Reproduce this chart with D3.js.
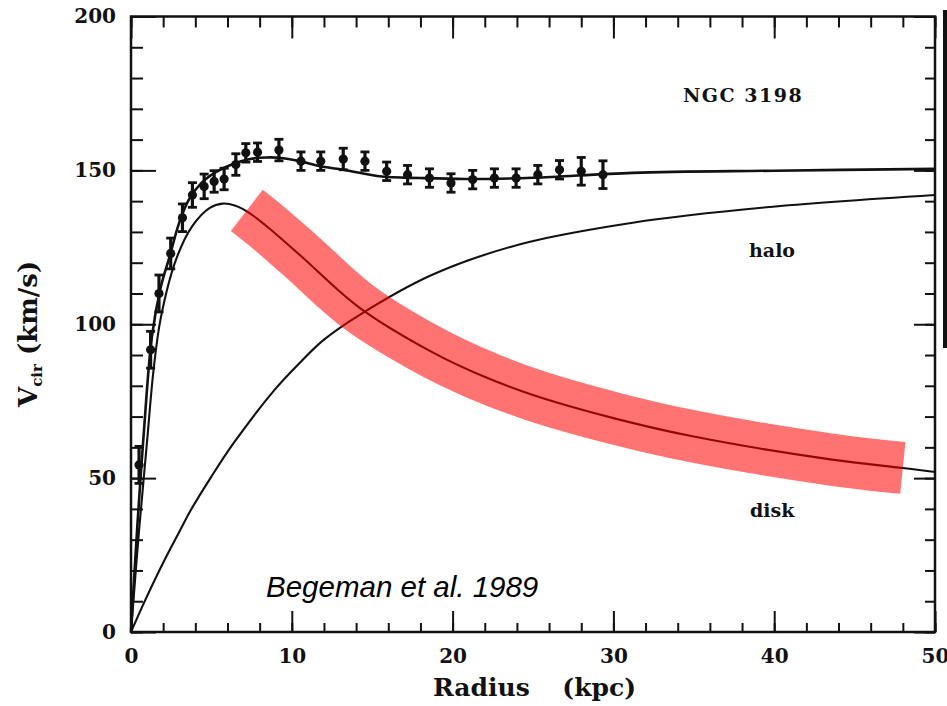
<!DOCTYPE html>
<html lang="en">
<head>
<meta charset="utf-8">
<title>NGC 3198 rotation curve</title>
<script src="https://cdn.jsdelivr.net/npm/d3@7/dist/d3.min.js"></script>
<style>
  body { margin: 0; background: #fff; }
  svg { display: block; }
  .tick text { font-family: "DejaVu Serif", serif; font-weight: bold; font-size: 20px; fill: #111; }
  .lbl { font-family: "DejaVu Serif", serif; font-weight: bold; fill: #111; }
</style>
</head>
<body>
<script>
// observed points (radius kpc, velocity km/s, error)
var obsR = [0.5,1.22,1.74,2.47,3.2,3.82,4.55,5.17,5.79,6.52,7.14,7.87,9.2,10.57,11.8,13.2,14.55,15.9,17.2,18.56,19.9,21.25,22.6,23.95,25.3,26.65,28.0,29.35];
var obsV = [54.3,91.7,110,123,134.6,142,144.8,146.4,147.2,151.9,155.7,155.9,156.6,153,153,153.7,153,149.7,148.6,147.5,145.9,147,147.5,147.5,148.6,150.2,149.7,148.6];
var obsErr = [6,6,6,5,4.5,4,4,3.5,3.5,3.5,3,3,3.5,3,3,3.5,3,3,3,3,3,3,3,3,3,3,4.5,4.5];

// model curves
var totalR = [0,0.4,0.8,1.3,1.85,2.4,3,3.6,4.4,5.3,6.3,7.4,8.4,9.2,10.5,11.7,13.2,15.6,18,20.8,25,31.2,40,50];
var totalV = [0,35,65,96,112,122,133,140.5,146,149.5,152,153.7,154.2,154.1,153,151.4,150.2,148,147.5,147.2,147.6,149.2,149.9,150.5];

var diskR = [0,0.5,1,1.4,1.85,2.8,3.8,4.9,5.7,6.5,7.35,8.4,10.5,14.2,18.7,21.5,25,30,35,43.6,48,50];
var diskV = [0,33,62,85,102,121,131.8,137.8,139.2,138.5,136.2,132,122.5,105.4,91,84,77,69.5,63.5,56,53.3,52];

var haloR = [0,0.8,2,3,3.74,5,6.4,8.9,10.5,12,14.2,18.7,24.2,31.2,39.5,50];
var haloV = [0,9.4,22.5,32.5,39.8,50.5,61.5,78.5,87.5,95,103,116,126,133,138,142];

// highlighted band over the disk curve
var bandR = [7.2,8.4,10.5,14.2,18.7,21.5,25,30,35,43.6,48];
var bandV = [137,132,122.5,105.4,91,84,77,69.5,63.5,56,53.3];

var xMajor = [0,10,20,30,40,50];
var yMajor = [0,50,100,150,200];

var w = 947, h = 706;
var x = d3.scaleLinear().domain([0,50]).range([131,935]);
var y = d3.scaleLinear().domain([0,200]).range([632,16.5]);

var svg = d3.select("body").append("svg").attr("width", w).attr("height", h);

function zip(a, b) { return a.map(function(v, i) { return [v, b[i]]; }); }

var line = d3.line()
  .x(function(d) { return x(d[0]); })
  .y(function(d) { return y(d[1]); })
  .curve(d3.curveCatmullRom.alpha(0.5));

// ticks (all pointing inward)
function ticks(axisFn, scale, vals, size, tr) {
  svg.append("g").attr("transform", tr)
    .call(axisFn(scale).tickValues(vals).tickSize(size).tickFormat(""))
    .call(function(g) { g.select(".domain").remove(); g.selectAll("line").attr("stroke", "#111").attr("stroke-width", 2); });
}
var xMinor = d3.range(0, 51, 2), yMinor = d3.range(0, 201, 10);
ticks(d3.axisBottom, x, xMinor, -9, "translate(0,632)");
ticks(d3.axisBottom, x, xMajor, -21, "translate(0,632)");
ticks(d3.axisTop, x, xMinor, -11, "translate(0,16.5)");
ticks(d3.axisTop, x, xMajor, -22, "translate(0,16.5)");
ticks(d3.axisLeft, y, yMinor, -12, "translate(131,0)");
ticks(d3.axisLeft, y, yMajor, -25, "translate(131,0)");
ticks(d3.axisRight, y, yMinor, -10, "translate(935,0)");
ticks(d3.axisRight, y, yMajor, -21, "translate(935,0)");

// tick labels
svg.append("g").attr("transform", "translate(0,632)")
  .call(d3.axisBottom(x).tickValues(xMajor).tickSize(0).tickPadding(17))
  .call(function(g) { g.select(".domain").remove(); });
svg.append("g").attr("transform", "translate(131,0)")
  .call(d3.axisLeft(y).tickValues(yMajor).tickSize(0).tickPadding(15))
  .call(function(g) { g.select(".domain").remove(); });

// frame
svg.append("rect")
  .attr("x", x(0)).attr("y", y(200))
  .attr("width", x(50) - x(0)).attr("height", y(0) - y(200))
  .attr("fill", "none").attr("stroke", "#111").attr("stroke-width", 2.5);

// model curves
[[haloR, haloV], [diskR, diskV], [totalR, totalV]].forEach(function(c, i) {
  svg.append("path")
    .attr("d", line(zip(c[0], c[1])))
    .attr("fill", "none")
    .attr("stroke", "#111")
    .attr("stroke-width", i == 2 ? 2.6 : 2.1);
});

// data points with error bars
var pts = svg.append("g").selectAll("g")
  .data(obsR.map(function(r, i) { return {r: r, v: obsV[i], e: obsErr[i]}; }))
  .enter().append("g");
pts.append("line")
  .attr("x1", function(d) { return x(d.r); }).attr("x2", function(d) { return x(d.r); })
  .attr("y1", function(d) { return y(d.v + d.e); }).attr("y2", function(d) { return y(d.v - d.e); })
  .attr("stroke", "#111").attr("stroke-width", 3.2);
[1, -1].forEach(function(s) {
  pts.append("line")
    .attr("x1", function(d) { return x(d.r) - 4.5; }).attr("x2", function(d) { return x(d.r) + 4.5; })
    .attr("y1", function(d) { return y(d.v + s * d.e); }).attr("y2", function(d) { return y(d.v + s * d.e); })
    .attr("stroke", "#111").attr("stroke-width", 2.8);
});
pts.append("circle")
  .attr("cx", function(d) { return x(d.r); })
  .attr("cy", function(d) { return y(d.v); })
  .attr("r", 4.6).attr("fill", "#111");

// red highlight band
svg.append("path")
  .attr("d", line(zip(bandR, bandV)))
  .attr("fill", "none")
  .attr("stroke", "rgb(255,0,0)")
  .attr("stroke-opacity", 0.55)
  .attr("stroke-width", 52)
  .attr("stroke-linecap", "butt");

// labels
svg.append("text").attr("class", "lbl").attr("x", 683).attr("y", 102)
  .style("font-size", "19px").style("letter-spacing", "1.5px").text("NGC 3198");
svg.append("text").attr("class", "lbl").attr("x", 749).attr("y", 257)
  .style("font-size", "19px").text("halo");
svg.append("text").attr("class", "lbl").attr("x", 750).attr("y", 517)
  .style("font-size", "19px").text("disk");

svg.append("text").attr("class", "lbl").attr("x", 433).attr("y", 696)
  .style("font-size", "25px").text("Radius");
svg.append("text").attr("class", "lbl").attr("x", 636).attr("y", 696)
  .attr("text-anchor", "end").style("font-size", "25px").text("(kpc)");

var yl = svg.append("text").attr("class", "lbl")
  .attr("transform", "translate(37,407) rotate(-90)")
  .style("font-size", "26px");
yl.append("tspan").text("V");
yl.append("tspan").attr("dy", 5).style("font-size", "15px").text("cir");
yl.append("tspan").attr("dy", -5).attr("dx", 9).text("(km/s)");

svg.append("text")
  .attr("x", 266).attr("y", 597)
  .style("font-family", "'Liberation Sans', Arial, sans-serif")
  .style("font-style", "italic")
  .style("font-size", "29.5px")
  .attr("fill", "#000")
  .text("Begeman et al. 1989");

// dark bar at the right edge
svg.append("rect").attr("x", 943).attr("y", 10).attr("width", 4).attr("height", 338).attr("fill", "#111");
</script>
</body>
</html>
